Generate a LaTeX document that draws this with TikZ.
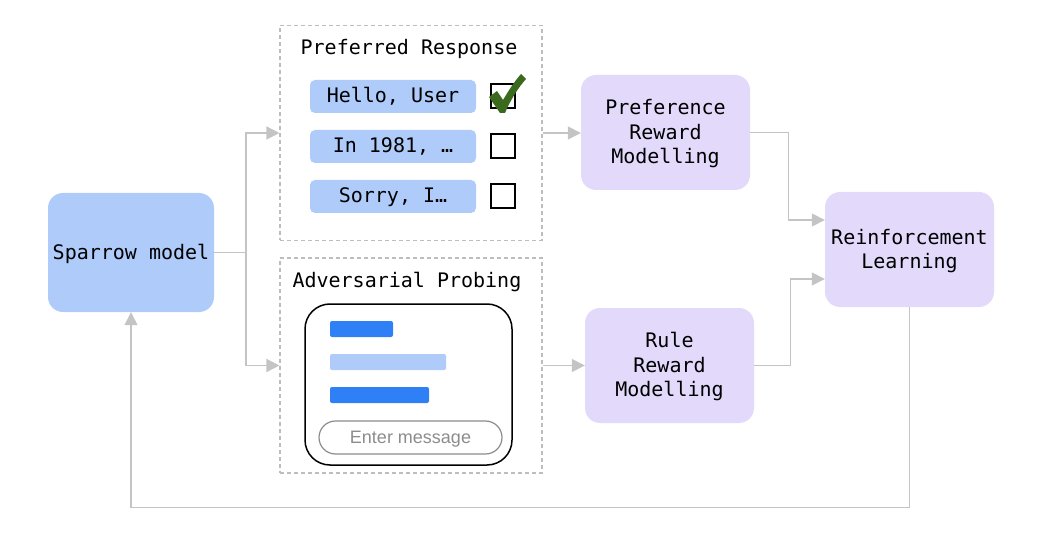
\documentclass[tikz,border=0pt]{standalone}
\usepackage{fontspec}
\setmonofont{DejaVu Sans Mono}
\newfontfamily\msgfont{Liberation Sans}
\usetikzlibrary{arrows.meta}
\definecolor{pillblue}{HTML}{AECBFA}
\definecolor{darkblue}{HTML}{2F80F6}
\definecolor{lav}{HTML}{E3DAFB}
\definecolor{linegray}{HTML}{C4C4C4}
\definecolor{dashgray}{HTML}{BDBDBD}
\definecolor{checkgreen}{HTML}{3B6A1E}
\definecolor{msggray}{HTML}{8C8C8C}
\newcommand\lowtxt[2][2pt]{\raisebox{-#1}[\height][\depth]{\begin{tabular}{@{}c@{}}#2\end{tabular}}}
\tikzset{
  lbl/.style={font=\ttfamily\fontsize{20}{24.5}\selectfont, align=center, text=black},
  bluebox/.style={lbl, fill=pillblue, rounded corners=15pt, minimum width=166pt, minimum height=119pt},
  lavbox/.style={lbl, fill=lav, rounded corners=15pt, minimum width=169pt, minimum height=115pt, inner sep=0pt},
  dashbox/.style={draw=dashgray, dash pattern=on 4pt off 3pt, line width=1.1pt, minimum width=262pt, minimum height=215pt},
  pill/.style={lbl, fill=pillblue, rounded corners=5pt, minimum width=166pt, minimum height=33pt, inner sep=0pt},
  chk/.style={draw=black, line width=1.3pt, minimum width=24pt, minimum height=24pt, inner sep=0pt},
  bar/.style={rounded corners=2pt, minimum height=16pt, inner sep=0pt},
  conn/.style={draw=linegray, line width=1.4pt},
  arr/.style={conn, -{Triangle[length=13pt,width=13pt]}},
}
\begin{document}
\begin{tikzpicture}[x=1pt,y=-1pt]
\useasboundingbox (0,0) rectangle (1056,534);
% main boxes
\node[bluebox] (sparrow) at (131,252.5) {\lowtxt{Sparrow model}};
\node[dashbox] (pref) at (411,133) {};
\node[dashbox] (adv) at (411,365.5) {};
\node[lavbox] (prm) at (665.5,132.5) {\lowtxt{Preference\\Reward\\Modelling}};
\node[lavbox] (rrm) at (669.5,365.5) {\lowtxt{Rule\\Reward\\Modelling}};
\node[lavbox] (rl) at (909.5,249.5) {\lowtxt{Reinforcement\\Learning}};
% preferred response content
\node[lbl] (preft) at (409,49) {Preferred Response};
\node[pill] (p1) at (393,96.5) {\lowtxt[1pt]{Hello, User}};
\node[pill] (p2) at (393,146.5) {\lowtxt[1pt]{In 1981, …}};
\node[pill] (p3) at (393,196.5) {\lowtxt[1pt]{Sorry, I…}};
\node[chk] (c1) at (503,96) {};
\node[chk] (c2) at (503,146) {};
\node[chk] (c3) at (503,196) {};
\fill[checkgreen] (489,97) -- (497,91) -- (503,100) .. controls (509,90) and (514,82) .. (521,74)
  -- (526,79) .. controls (518,88) and (511,99) .. (505,113) -- (500,113) -- cycle;
% adversarial probing content
\node[lbl, anchor=west] (advt) at (289,282) {Adversarial Probing};
\node[draw=black, line width=1.5pt, rounded corners=25pt, minimum width=207pt, minimum height=161pt] (chat) at (408.5,384.5) {};
\node[bar, fill=darkblue, minimum width=63pt] (b1) at (361.5,329) {};
\node[bar, fill=pillblue, minimum width=116pt] (b2) at (388,362) {};
\node[bar, fill=darkblue, minimum width=99pt] (b3) at (379.5,395) {};
\node[draw=msggray, line width=1.2pt, rounded corners=16.5pt, minimum width=183pt, minimum height=33pt, text=msggray, font=\msgfont\fontsize{18}{20}\selectfont] (msg) at (410.5,437.5) {\lowtxt{Enter message}};
% connectors
\coordinate (split) at (246,252.5);
\draw[conn] (sparrow.east) -- (split);
\draw[arr] (split) |- (pref.west);
\draw[arr] (split) |- (adv.west);
\draw[arr] (pref.east) -- (prm.west |- pref.east);
\draw[arr] (adv.east) -- (rrm.west |- adv.east);
\draw[arr] (prm.east) -- ++(38,0) |- ([yshift=29.5pt]rl.west);
\draw[arr] (rrm.east) -- ++(36,0) |- ([yshift=-29.5pt]rl.west);
\draw[arr] (rl.south) -- ++(0,200) -| (sparrow.south);
\end{tikzpicture}
\end{document}
